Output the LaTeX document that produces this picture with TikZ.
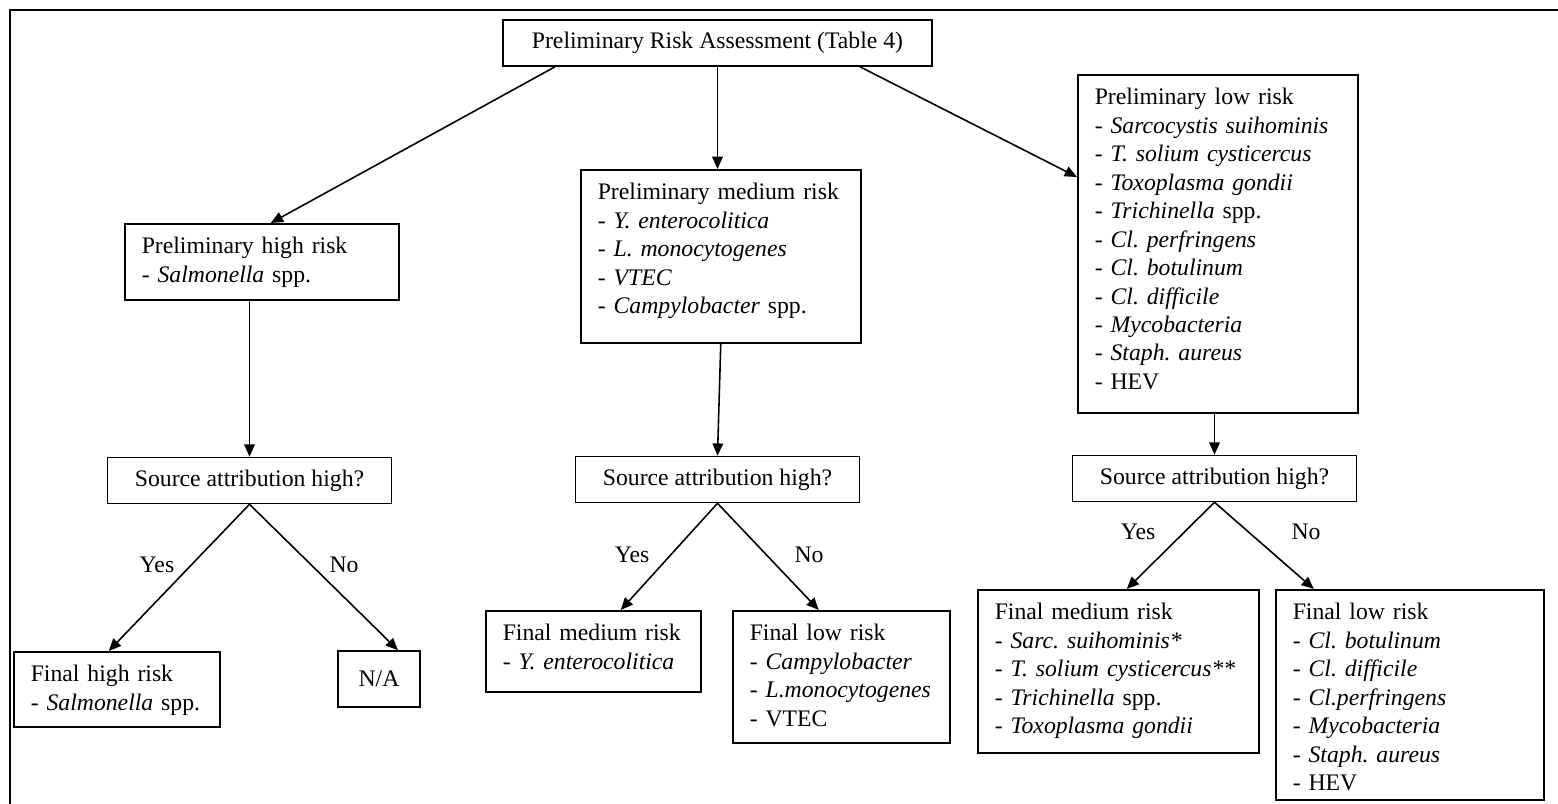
\documentclass[tikz,border=0pt]{standalone}
\usepackage{fontspec}
\setmainfont{Liberation Serif}
\usetikzlibrary{arrows.meta}
\frenchspacing

\begin{document}
\begin{tikzpicture}[x=0.02cm,y=-0.02cm,
    flow/.style={-{Triangle[length=7pt,width=6pt]},line width=0.9pt},
    plainbox/.style={draw,line width=0.9pt,font=\fontsize{13.5}{16.2}\selectfont},
    riskbox/.style={plainbox,anchor=north west,align=left,inner xsep=0.34cm,inner ysep=0pt,text height=0.6cm},
    choice/.style={font=\fontsize{13.5}{16.2}\selectfont}]
    \useasboundingbox (0,0) rectangle (1558,804);
    %frame
    \draw [very thick] (1558,10) -- (10,10) -- (10,804);
    %preliminary assessment
    \node [plainbox,minimum width=8.58cm,minimum height=0.92cm] (prelim) at (717.5,43) {Preliminary Risk Assessment (Table 4)};
    \node [riskbox,text width=4.8cm,text depth=0.92cm] (prehigh) at (124,223) {Preliminary high risk\\- \textit{Salmonella} spp.};
    \node [riskbox,text width=4.92cm,text depth=2.86cm] (premed) at (580,169) {Preliminary medium risk\\- \textit{Y. enterocolitica}\\- \textit{L. monocytogenes}\\- \textit{VTEC}\\- \textit{Campylobacter} spp.};
    \node [riskbox,text width=4.92cm,text depth=6.16cm] (prelow) at (1077,74) {Preliminary low risk\\- \textit{Sarcocystis suihominis}\\- \textit{T. solium cysticercus}\\- \textit{Toxoplasma gondii}\\- \textit{Trichinella} spp.\\- \textit{Cl. perfringens}\\- \textit{Cl. botulinum}\\- \textit{Cl. difficile}\\- \textit{Mycobacteria}\\- \textit{Staph. aureus}\\- HEV};
    %source attribution
    \node [plainbox,minimum width=5.68cm,minimum height=0.92cm] (sahigh) at (249.5,480.5) {Source attribution high?};
    \node [plainbox,minimum width=5.68cm,minimum height=0.92cm] (samed) at (717.5,479.5) {Source attribution high?};
    \node [plainbox,minimum width=5.68cm,minimum height=0.92cm] (salow) at (1214.5,478.5) {Source attribution high?};
    %final risk
    \node [riskbox,text width=3.44cm,text depth=0.9cm] (highyes) at (13,651) {Final high risk\\- \textit{Salmonella} spp.};
    \node [plainbox,minimum width=1.64cm,minimum height=1.12cm] (highno) at (379,679) {N/A};
    \node [riskbox,text width=3.62cm,text depth=1.02cm] (medyes) at (485,610) {Final medium risk\\- \textit{Y. enterocolitica}};
    \node [riskbox,text width=3.66cm,text depth=2.04cm] (medno) at (732,610) {Final low risk\\- \textit{Campylobacter}\\- \textit{L.monocytogenes}\\- VTEC};
    \node [riskbox,text width=4.94cm,text depth=2.66cm] (lowyes) at (977,589) {Final medium risk\\- \textit{Sarc. suihominis*}\\- \textit{T. solium cysticercus**}\\- \textit{Trichinella} spp.\\- \textit{Toxoplasma gondii}};
    \node [riskbox,text width=4.68cm,text depth=3.6cm] (lowno) at (1275,589) {Final low risk\\- \textit{Cl. botulinum}\\- \textit{Cl. difficile}\\- \textit{Cl.perfringens}\\- \textit{Mycobacteria}\\- \textit{Staph. aureus}\\- HEV};
    %answers
    \node [choice] (lblhighyes) at (157,565) {Yes};
    \node [choice] (lblhighno) at (344,565) {No};
    \node [choice] (lblmedyes) at (632,555) {Yes};
    \node [choice] (lblmedno) at (809,555) {No};
    \node [choice] (lbllowyes) at (1138,532) {Yes};
    \node [choice] (lbllowno) at (1306,532) {No};
    %arrows
    \draw [flow] ([xshift=-3.25cm]prelim.south) -- ([xshift=0.18cm]prehigh.north);
    \draw [flow] (prelim.south) -- (prelim.south |- premed.north);
    \draw [flow] ([xshift=2.85cm]prelim.south) -- ([yshift=-2.06cm]prelow.north west);
    \draw [flow] (prehigh.south -| sahigh.north) -- (sahigh.north);
    \draw [flow] (premed.south) -- (samed.north);
    \draw [flow] (prelow.south -| salow.north) -- (salow.north);
    \draw [flow] (sahigh.south) -- ([xshift=-0.16cm]highyes.north);
    \draw [flow] (sahigh.south) -- ([xshift=0.38cm]highno.north);
    \draw [flow] (samed.south) -- ([xshift=0.55cm]medyes.north);
    \draw [flow] (samed.south) -- ([xshift=-0.45cm]medno.north);
    \draw [flow] (salow.south) -- ([xshift=0.17cm]lowyes.north);
    \draw [flow] (salow.south) -- ([xshift=-1.92cm]lowno.north);
  \end{tikzpicture}
\end{document}
